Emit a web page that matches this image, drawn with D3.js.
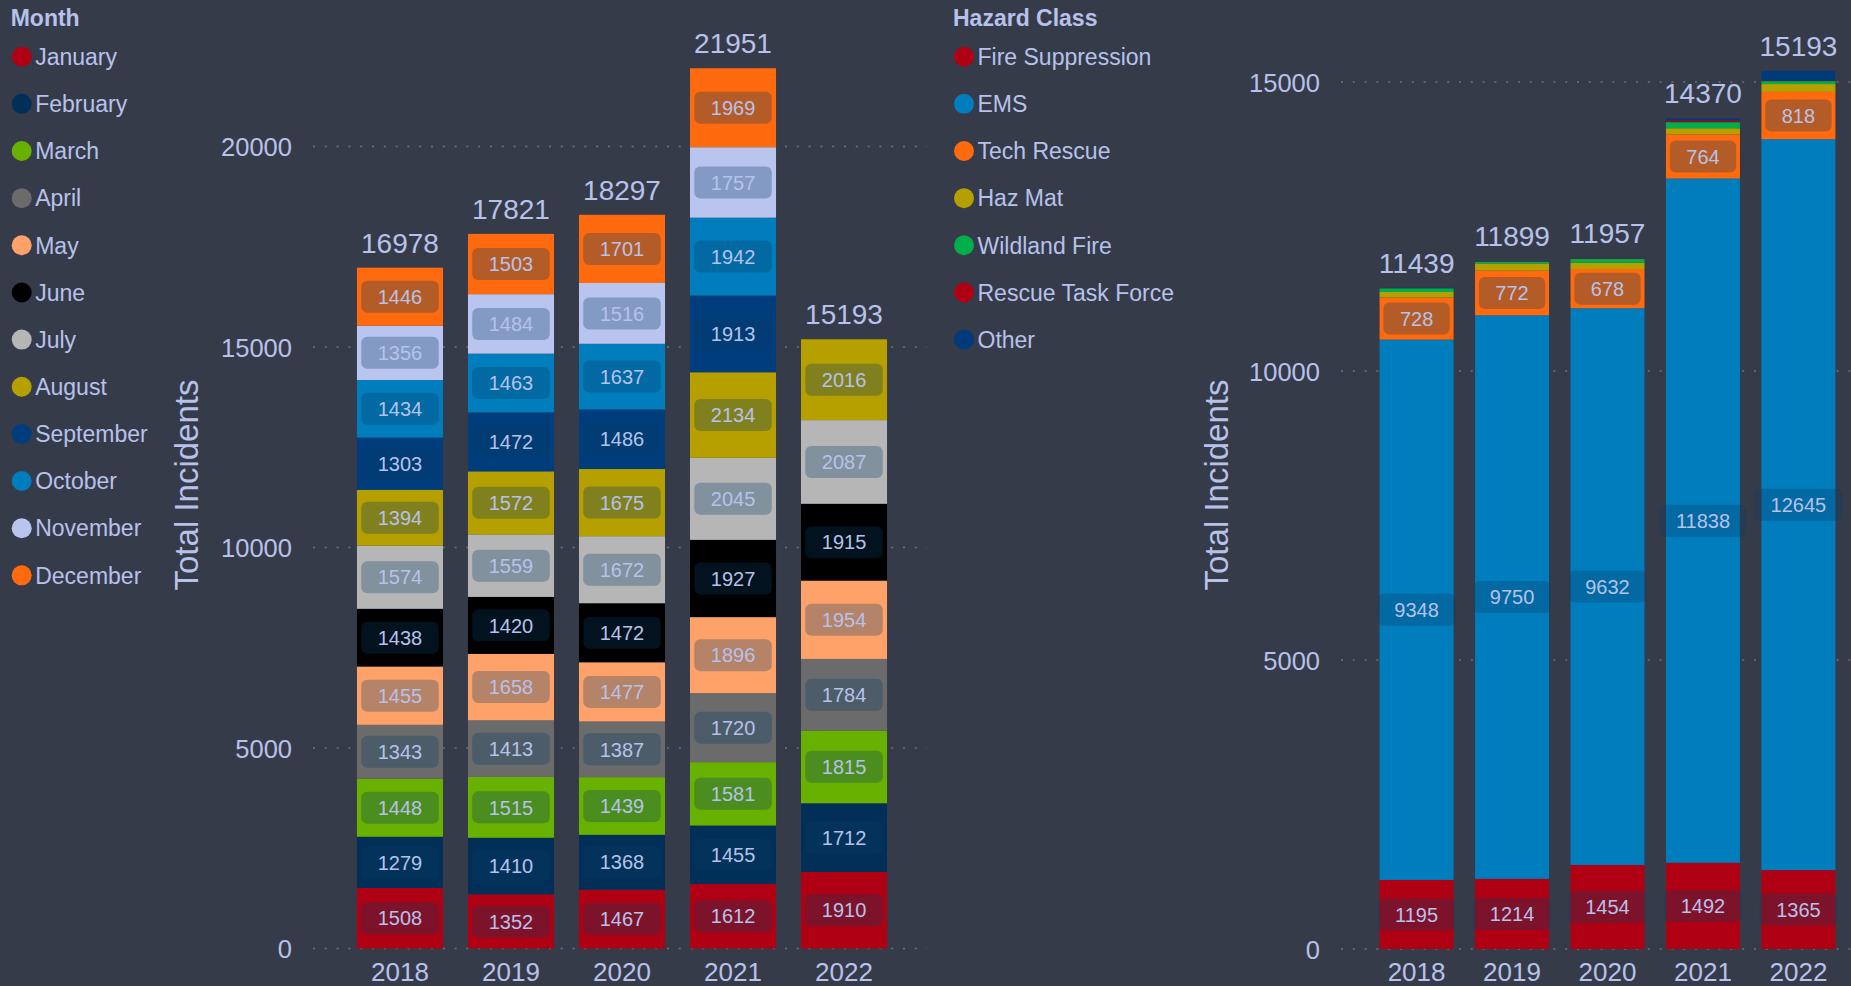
<!DOCTYPE html>
<html>
<head>
<meta charset="utf-8">
<script src="https://cdn.jsdelivr.net/npm/d3@7"></script>
<style>
  body { margin: 0; background: #363b4a; overflow: hidden; }
  svg text { font-family: "Liberation Sans", Arial, sans-serif; fill: #b6c2ea; }
</style>
</head>
<body>
<script>
// years on the x axis (both charts)
var years = ["2018", "2019", "2020", "2021", "2022"];

// left chart: incidents per month
var months = ["January", "February", "March", "April", "May", "June",
              "July", "August", "September", "October", "November", "December"];
var january   = [1508, 1352, 1467, 1612, 1910];
var february  = [1279, 1410, 1368, 1455, 1712];
var march     = [1448, 1515, 1439, 1581, 1815];
var april     = [1343, 1413, 1387, 1720, 1784];
var may       = [1455, 1658, 1477, 1896, 1954];
var june      = [1438, 1420, 1472, 1927, 1915];
var july      = [1574, 1559, 1672, 2045, 2087];
var august    = [1394, 1572, 1675, 2134, 2016];
var september = [1303, 1472, 1486, 1913, 0];
var october   = [1434, 1463, 1637, 1942, 0];
var november  = [1356, 1484, 1516, 1757, 0];
var december  = [1446, 1503, 1701, 1969, 0];
var monthTicks = [0, 5000, 10000, 15000, 20000];

// right chart: incidents per hazard class
var hazards = ["Fire Suppression", "EMS", "Tech Rescue", "Haz Mat",
               "Wildland Fire", "Rescue Task Force", "Other"];
var fireSuppression = [1195, 1214, 1454, 1492, 1365];
var ems             = [9348, 9750, 9632, 11838, 12645];
var techRescue      = [728, 772, 678, 764, 818];
var hazMat          = [96, 125, 108, 106, 137];
var wildlandFire    = [64, 30, 68, 105, 50];
var rescueTaskForce = [1, 1, 12, 30, 10];
var other           = [7, 7, 5, 35, 168];
var hazardTicks = [0, 5000, 10000, 15000];

var monthColors = ["#b00014", "#022f57", "#69b100", "#6b6b6b", "#ffa26a", "#000000",
                   "#b6b6b6", "#b5a000", "#003d7c", "#007dbd", "#b9c5ee", "#ff6a0e"];
var hazardColors = ["#b00014", "#007dbd", "#ff6a0e", "#b5a000", "#00ae4c", "#b00014", "#003a7a"];

var W = 1851, H = 986;

var svg = d3.select("body").append("svg")
  .attr("width", W)
  .attr("height", H);

function buildRows(keys, series) {
  return years.map(function(y, i) {
    var row = {year: y};
    keys.forEach(function(k, j) { row[k] = series[j][i]; });
    return row;
  });
}

function drawLegend(cfg) {
  var g = svg.append("g").attr("transform", "translate(" + cfg.left + ",0)");
  g.append("text")
    .attr("x", 0).attr("y", 26)
    .style("font-size", "23px")
    .style("font-weight", "bold")
    .text(cfg.title);
  var item = g.selectAll("g.item")
    .data(cfg.keys)
    .enter().append("g")
    .attr("class", "item")
    .attr("transform", function(d, i) { return "translate(0," + (56.7 + i * 47.15) + ")"; });
  item.append("circle")
    .attr("cx", 11).attr("cy", 0).attr("r", 10)
    .attr("fill", function(d, i) { return cfg.colors[i]; });
  item.append("text")
    .attr("x", 24.5).attr("y", 0).attr("dy", "0.36em")
    .style("font-size", "23px")
    .text(function(d) { return d; });
}

function drawChart(cfg) {
  var rows = buildRows(cfg.keys, cfg.series);
  var stacked = d3.stack().keys(cfg.keys)(rows);
  var totals = rows.map(function(r) { return d3.sum(cfg.keys, function(k) { return r[k]; }); });

  var xScale = d3.scaleBand()
    .domain(years)
    .range(cfg.xRange)
    .paddingInner(0.225)
    .paddingOuter(0.378);

  var yScale = d3.scaleLinear()
    .domain([0, cfg.ticks[cfg.ticks.length - 1]])
    .range(cfg.yRange);

  var g = svg.append("g");

  // dotted grid lines
  g.selectAll("line.grid")
    .data(cfg.ticks)
    .enter().append("line")
    .attr("class", "grid")
    .attr("x1", cfg.gridX[0]).attr("x2", cfg.gridX[1])
    .attr("y1", function(d) { return yScale(d); })
    .attr("y2", function(d) { return yScale(d); })
    .attr("stroke", "#6f746c")
    .attr("stroke-width", 1.6)
    .attr("stroke-dasharray", "2 9.8");

  var yAxis = d3.axisLeft(yScale)
    .tickValues(cfg.ticks)
    .tickFormat(d3.format("d"))
    .tickSize(0)
    .tickPadding(21);
  var yg = g.append("g")
    .attr("transform", "translate(" + cfg.gridX[0] + ",0)")
    .call(yAxis);
  yg.select(".domain").remove();
  yg.selectAll("text")
    .attr("dy", "0.36em")
    .attr("fill", null)
    .style("font-size", "25.5px");

  var xAxis = d3.axisBottom(xScale).tickSize(0).tickPadding(14);
  var xg = g.append("g")
    .attr("transform", "translate(0," + cfg.yRange[0] + ")")
    .call(xAxis);
  xg.select(".domain").remove();
  xg.selectAll("text")
    .attr("fill", null)
    .style("font-size", "26px");

  g.append("text")
    .attr("transform", "translate(" + cfg.titleX + ",485) rotate(-90)")
    .attr("text-anchor", "middle")
    .style("font-size", "33px")
    .text("Total Incidents");

  // stacked bars
  var layer = g.selectAll("g.layer")
    .data(stacked)
    .enter().append("g")
    .attr("class", "layer")
    .attr("fill", function(d, i) { return cfg.colors[i]; });

  layer.selectAll("rect")
    .data(function(d) { return d; })
    .enter().append("rect")
    .attr("x", function(d) { return xScale(d.data.year); })
    .attr("y", function(d) { return yScale(d[1]); })
    .attr("width", xScale.bandwidth())
    .attr("height", function(d) { return yScale(d[0]) - yScale(d[1]); });

  // value labels inside segments
  var segs = [];
  stacked.forEach(function(s) {
    s.forEach(function(d) {
      var v = d[1] - d[0];
      if (v > 0 && yScale(d[0]) - yScale(d[1]) >= 30) segs.push(d);
    });
  });
  var lab = g.selectAll("g.seglabel")
    .data(segs)
    .enter().append("g")
    .attr("class", "seglabel")
    .attr("transform", function(d) {
      var cx = xScale(d.data.year) + xScale.bandwidth() / 2;
      var cy = (yScale(d[0]) + yScale(d[1])) / 2;
      return "translate(" + cx + "," + cy + ")";
    });
  lab.append("rect")
    .attr("fill", "rgba(5,58,98,0.3)")
    .attr("rx", 6).attr("ry", 6);
  lab.append("text")
    .attr("text-anchor", "middle")
    .attr("dy", "0.36em")
    .style("font-size", "20px")
    .text(function(d) { return d[1] - d[0]; });
  lab.each(function() {
    var t = d3.select(this).select("text").node().getComputedTextLength();
    d3.select(this).select("rect")
      .attr("x", -(t + 33) / 2).attr("y", -16)
      .attr("width", t + 33).attr("height", 32);
  });

  // totals on top
  g.selectAll("text.total")
    .data(totals)
    .enter().append("text")
    .attr("class", "total")
    .attr("x", function(d, i) { return xScale(years[i]) + xScale.bandwidth() / 2; })
    .attr("y", function(d) { return yScale(d) - 15; })
    .attr("text-anchor", "middle")
    .style("font-size", "28px")
    .text(function(d) { return d; });
}

drawLegend({left: 10.7, title: "Month", keys: months, colors: monthColors});
drawLegend({left: 953, title: "Hazard Class", keys: hazards, colors: hazardColors});

drawChart({
  keys: months,
  series: [january, february, march, april, may, june, july, august,
           september, october, november, december],
  colors: monthColors,
  ticks: monthTicks,
  xRange: [315, 929],
  yRange: [948.5, 146.5],
  gridX: [313, 927],
  titleX: 198
});

drawChart({
  keys: hazards,
  series: [fireSuppression, ems, techRescue, hazMat, wildlandFire, rescueTaskForce, other],
  colors: hazardColors,
  ticks: hazardTicks,
  xRange: [1343.5, 1871.5],
  yRange: [949, 82],
  gridX: [1341, 1851],
  titleX: 1228
});
</script>
</body>
</html>
